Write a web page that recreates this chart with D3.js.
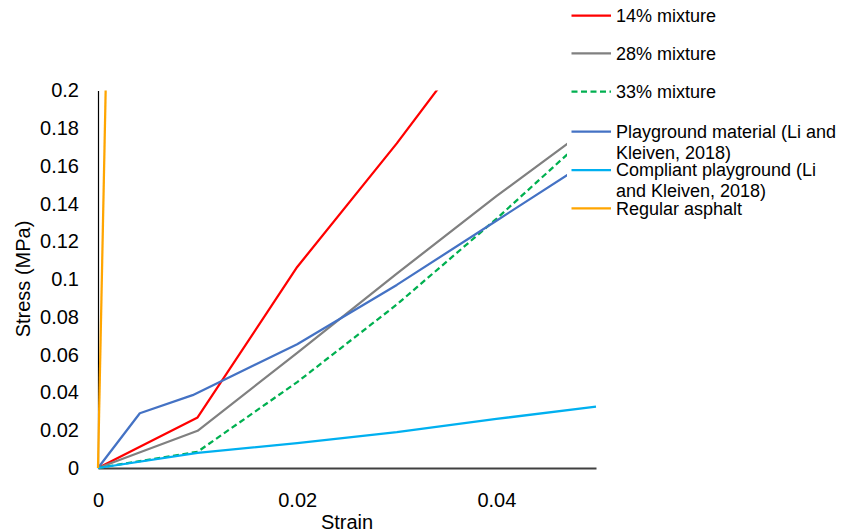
<!DOCTYPE html>
<html>
<head>
<meta charset="utf-8">
<script src="https://cdn.jsdelivr.net/npm/d3@7"></script>
<style>
  body { margin: 0; background: #fff; }
  text { font-family: "Liberation Sans", Arial, Helvetica, sans-serif; fill: #000; }
</style>
</head>
<body>
<svg id="chart" width="841" height="532"></svg>
<script>
// ---- data ----
const seriesNames = ["14% mixture", "28% mixture", "33% mixture",
  "Playground material (Li and Kleiven, 2018)",
  "Compliant playground (Li and Kleiven, 2018)", "Regular asphalt"];
const mix14 = [[0,0],[0.01,0.0268],[0.02,0.1065],[0.03,0.172],[0.04,0.242]];
const mix28 = [[0,0],[0.01,0.0197],[0.02,0.061],[0.03,0.103],[0.04,0.144],[0.05,0.183]];
const mix33 = [[0,0],[0.01,0.0086],[0.02,0.0455],[0.03,0.0866],[0.04,0.132],[0.05,0.18]];
const playground = [[0,0],[0.0042,0.029],[0.0095,0.0386],[0.02,0.0656],[0.03,0.097],[0.04,0.131],[0.05,0.165]];
const compliant = [[0,0],[0.01,0.008],[0.02,0.0132],[0.03,0.019],[0.04,0.026],[0.05,0.0325]];
const asphalt = [[0,0],[0.001,0.26]];
const xTicks = [0, 0.02, 0.04];
const xTickLabels = ["0", "0.02", "0.04"];
const yTicks = [0,0.02,0.04,0.06,0.08,0.1,0.12,0.14,0.16,0.18,0.2];
const yTickLabels = ["0","0.02","0.04","0.06","0.08","0.1","0.12","0.14","0.16","0.18","0.2"];
const xTitle = "Strain";
const yTitle = "Stress (MPa)";

const seriesData = [mix14, mix28, mix33, playground, compliant, asphalt];
const colors = ["#FF0000", "#808080", "#00B050", "#4472C4", "#00B0F0", "#FFA500"];
const dashes = [null, null, "6,3.5", null, null, null];
const legendLines = [["14% mixture"], ["28% mixture"], ["33% mixture"],
  ["Playground material (Li and", "Kleiven, 2018)"],
  ["Compliant playground (Li", "and Kleiven, 2018)"], ["Regular asphalt"]];
const legendY = [15.7, 53.3, 91.7, 131.7, 170, 208.3];

// ---- layout ----
const svg = d3.select("#chart");
const pLeft = 98, pRight = 596, pTop = 90.5, pBottom = 468;
const x = d3.scaleLinear().domain([0, 0.05]).range([pLeft, pRight]);
const y = d3.scaleLinear().domain([0, 0.2]).range([pBottom, pTop]);

svg.append("defs").append("clipPath").attr("id", "plotclip")
  .append("rect").attr("x", pLeft - 2).attr("y", pTop).attr("width", pRight - pLeft + 4).attr("height", pBottom - pTop + 2);

// y axis
const yAxis = svg.append("g").attr("transform", `translate(${pLeft},0)`)
  .call(d3.axisLeft(y).tickValues(yTicks).tickFormat((d, i) => yTickLabels[i]).tickSize(0).tickPadding(19));
yAxis.select(".domain").attr("stroke", "#000").attr("stroke-width", 1.2);
yAxis.selectAll("text").style("font-size", "20px").attr("fill", "#000");

// x axis
const xAxis = svg.append("g").attr("transform", `translate(0,${pBottom})`)
  .call(d3.axisBottom(x).tickValues(xTicks).tickFormat((d, i) => xTickLabels[i]).tickSize(0).tickPadding(25));
xAxis.select(".domain").attr("stroke", "#404040").attr("stroke-width", 2);
xAxis.selectAll("text").style("font-size", "20px").attr("fill", "#000");

// titles
svg.append("text").attr("x", (pLeft + pRight) / 2).attr("y", 529)
  .attr("text-anchor", "middle").style("font-size", "20px").text(xTitle);
svg.append("text").attr("transform", "translate(30,279) rotate(-90)")
  .attr("text-anchor", "middle").style("font-size", "20px").text(yTitle);

// lines
const line = d3.line().x(d => x(d[0])).y(d => y(d[1]));
const g = svg.append("g").attr("clip-path", "url(#plotclip)");
seriesData.forEach((data, i) => {
  g.append("path").datum(data).attr("d", line)
    .attr("fill", "none").attr("stroke", colors[i]).attr("stroke-width", 2.25)
    .attr("stroke-linejoin", "round")
    .attr("stroke-dasharray", dashes[i]);
});

// legend
const lg = svg.append("g");
lg.append("rect").attr("x", 567).attr("y", 0).attr("width", 274).attr("height", 225).attr("fill", "#fff");
seriesNames.forEach((name, i) => {
  lg.append("line").attr("x1", 571.5).attr("x2", 611).attr("y1", legendY[i]).attr("y2", legendY[i])
    .attr("stroke", colors[i]).attr("stroke-width", 2.25).attr("stroke-dasharray", dashes[i]);
  const t = lg.append("text").attr("x", 616).attr("y", legendY[i]).style("font-size", "18px");
  legendLines[i].forEach((s, j) => {
    t.append("tspan").attr("x", 616).attr("dy", j === 0 ? "0.35em" : "20.5px").text(s);
  });
});
</script>
</body>
</html>
